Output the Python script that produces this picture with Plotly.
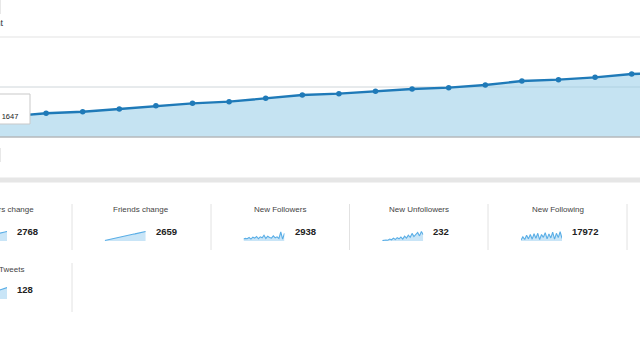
import plotly.graph_objects as go

W, H = 640, 360

# ---- data ----
days = list(range(20))
followers_count = [1560, 1647, 1900, 2020, 2240, 2496, 2696, 2824, 3096, 3360,
                   3464, 3656, 3840, 3944, 4160, 4480, 4584, 4776, 5040, 5130]

card_titles = ["Followers change", "Friends change", "New Followers", "New Unfollowers", "New Following"]
card_values = ["2768", "2659", "2938", "232", "17972"]
followers_change = [2, 5, 9, 12, 16, 19, 22, 26, 30, 33, 37, 41, 45, 49, 53, 57, 60, 64, 68, 72]
friends_change = [4, 8, 11, 15, 19, 22, 26, 30, 33, 37, 40, 44, 47, 51, 54, 58, 61, 65, 68, 72]
new_followers = [40, 42, 41, 45, 40, 46, 43, 48, 41, 47, 44, 52, 42, 49, 45, 43, 50, 44, 47, 42, 62, 40, 58]
new_unfollowers = [10, 12, 13, 12, 17, 14, 21, 15, 23, 18, 26, 17, 30, 21, 34, 25, 42, 28, 37, 46, 31, 50, 36]
new_following = [45, 65, 48, 75, 52, 80, 50, 85, 56, 88, 47, 80, 62, 92, 52, 84, 58, 95, 50, 88, 60, 98, 55]
tweets_title = "New Tweets"
tweets_value = "128"
tweets = [5, 8, 10, 12, 15, 17, 20, 23, 25, 28, 30, 33, 36, 40, 44, 48, 52, 56, 60, 64]

LINE = "#1f7ab8"
FILL = "rgba(150,204,232,0.55)"
SPARK = "#5aaee6"
SPARK_FILL = "rgba(120,190,235,0.40)"
FONT = "Liberation Sans, Arial, sans-serif"


def px_x(p):
    return p / W


def px_y(p):
    return 1 - p / H


fig = go.Figure()

# main area chart
fig.add_trace(go.Scatter(
    x=days, y=followers_count, mode="lines+markers",
    line=dict(color=LINE, width=2.3), marker=dict(color=LINE, size=5.5),
    fill="tozeroy", fillcolor=FILL, hoverinfo="skip", showlegend=False,
    xaxis="x", yaxis="y"))

layout_axes = {}
layout_axes["xaxis"] = dict(domain=[0, 1], range=[0.7404, 18.227], visible=False, fixedrange=True)
layout_axes["yaxis"] = dict(domain=[px_y(137), px_y(37)], range=[0, 8000], visible=False, fixedrange=True)

shapes = []
annotations = []


def hline(y, color, width=1, layer="above"):
    shapes.append(dict(type="line", xref="paper", yref="paper",
                       x0=0, x1=1, y0=px_y(y), y1=px_y(y),
                       line=dict(color=color, width=width), layer=layer))


def vline(x, y0, y1, color="#e2e2e2", width=1):
    shapes.append(dict(type="line", xref="paper", yref="paper",
                       x0=px_x(x), x1=px_x(x), y0=px_y(y0), y1=px_y(y1),
                       line=dict(color=color, width=width)))


hline(37, "#ececec", 1.5)
hline(87, "#cfd6da", 1, layer="below")
hline(137, "#b4b8bb", 1.5)
# separator band
shapes.append(dict(type="rect", xref="paper", yref="paper",
                   x0=0, x1=1, y0=px_y(182.5), y1=px_y(177.5),
                   fillcolor="#e6e6e6", line=dict(width=0)))
vline(0.5, 0, 14, "#e8e8e8")
vline(0.5, 148, 162, "#e8e8e8")

# tooltip box
shapes.append(dict(type="rect", xref="paper", yref="paper",
                   x0=-0.02, x1=px_x(30), y0=px_y(124), y1=px_y(94),
                   fillcolor="white", line=dict(color="#c9c9c9", width=1), layer="above"))
annotations.append(dict(text="Followers count: 1647", xref="paper", yref="paper",
                        x=px_x(20), y=px_y(117), xanchor="right", yanchor="middle",
                        showarrow=False, font=dict(size=7.5, color="#222", family=FONT)))
# header text
annotations.append(dict(text="Followers count", xref="paper", yref="paper",
                        x=px_x(6), y=px_y(23), xanchor="right", yanchor="middle",
                        showarrow=False, font=dict(size=9, color="#333", family=FONT)))

# cards
card_w = 138.75
lefts = [-67 + card_w * i for i in range(5)]
for x in [72, 211, 349.5, 488, 627]:
    vline(x, 204, 250)
vline(72, 263, 312)

series = [followers_change, friends_change, new_followers, new_unfollowers, new_following]
ax_i = 2
for i, (title, val, s) in enumerate(zip(card_titles, card_values, series)):
    L = lefts[i]
    annotations.append(dict(text=title, xref="paper", yref="paper",
                            x=px_x(L + 69.5), y=px_y(209), xanchor="center", yanchor="middle",
                            showarrow=False, font=dict(size=8, color="#444", family=FONT)))
    annotations.append(dict(text="<b>%s</b>" % val, xref="paper", yref="paper",
                            x=px_x(L + 82), y=px_y(231), xanchor="left", yanchor="middle",
                            showarrow=False, font=dict(size=9.5, color="#222", family=FONT)))
    x0, x1 = L + 33, L + 74
    n = len(s)
    xr = [0, n - 1]
    if x0 < 0:
        frac = (0 - x0) / (x1 - x0)
        xr = [(n - 1) * frac, n - 1]
        x0 = 0
    lo = 0
    hi = max(s) * 1.05
    if i in (2, 3, 4):
        lo = min(s) * 0.85
    fig.add_trace(go.Scatter(
        x=list(range(n)), y=s, mode="lines", line=dict(color=SPARK, width=1.1),
        fill="tozeroy", fillcolor=SPARK_FILL, hoverinfo="skip", showlegend=False,
        xaxis="x%d" % ax_i, yaxis="y%d" % ax_i))
    layout_axes["xaxis%d" % ax_i] = dict(domain=[px_x(x0), px_x(x1)], range=xr, visible=False,
                                         anchor="y%d" % ax_i, fixedrange=True)
    layout_axes["yaxis%d" % ax_i] = dict(domain=[px_y(241), px_y(231)], range=[lo, hi], visible=False,
                                         anchor="x%d" % ax_i, fixedrange=True)
    ax_i += 1

# row 2 card
L = lefts[0]
annotations.append(dict(text=tweets_title, xref="paper", yref="paper",
                        x=px_x(L + 69.5), y=px_y(269), xanchor="center", yanchor="middle",
                        showarrow=False, font=dict(size=8, color="#444", family=FONT)))
annotations.append(dict(text="<b>%s</b>" % tweets_value, xref="paper", yref="paper",
                        x=px_x(L + 82), y=px_y(289), xanchor="left", yanchor="middle",
                        showarrow=False, font=dict(size=9.5, color="#222", family=FONT)))
n = len(tweets)
frac = 34 / 41
fig.add_trace(go.Scatter(
    x=list(range(n)), y=tweets, mode="lines", line=dict(color=SPARK, width=1.1),
    fill="tozeroy", fillcolor=SPARK_FILL, hoverinfo="skip", showlegend=False,
    xaxis="x%d" % ax_i, yaxis="y%d" % ax_i))
layout_axes["xaxis%d" % ax_i] = dict(domain=[0, px_x(7)], range=[(n - 1) * frac, n - 1], visible=False,
                                     anchor="y%d" % ax_i, fixedrange=True)
layout_axes["yaxis%d" % ax_i] = dict(domain=[px_y(299), px_y(287)], range=[0, max(tweets) * 1.05], visible=False,
                                     anchor="x%d" % ax_i, fixedrange=True)

fig.update_layout(
    width=W, height=H, autosize=False,
    margin=dict(l=0, r=0, t=0, b=0),
    paper_bgcolor="white", plot_bgcolor="rgba(0,0,0,0)",
    shapes=shapes, annotations=annotations,
    font=dict(family=FONT),
    **layout_axes)

fig.write_html("out.html", include_plotlyjs=True,
               config={"displayModeBar": False, "staticPlot": True},
               post_script="document.body.style.margin='0';")
